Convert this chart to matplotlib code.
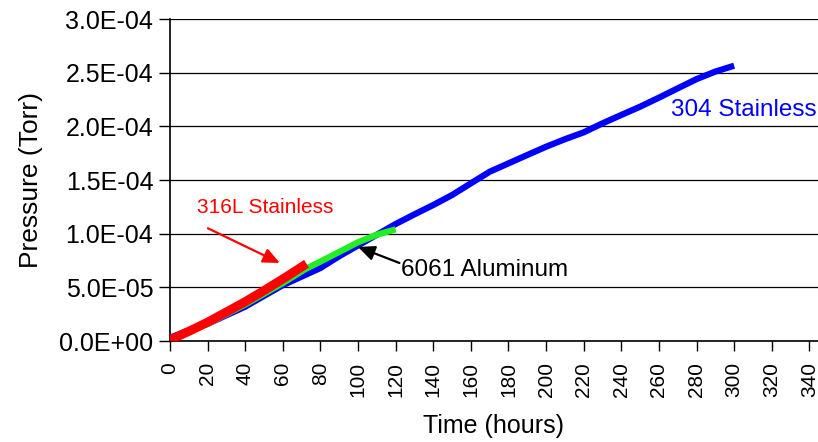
import matplotlib
matplotlib.use("Agg")
import matplotlib.pyplot as plt
from matplotlib.ticker import FuncFormatter

plt.rcParams['font.family'] = ['Liberation Sans', 'DejaVu Sans']

# Data
hours_304 = [0, 10, 20, 30, 40, 50, 60, 70, 80, 90, 100, 110, 120, 130, 140, 150, 160,
             170, 180, 190, 200, 210, 220, 230, 240, 250, 260, 270, 280, 290, 300]
p_304 = [3.0e-6, 1.0e-5, 1.6e-5, 2.4e-5, 3.2e-5, 4.2e-5, 5.2e-5, 6.0e-5, 6.8e-5, 7.9e-5,
         8.9e-5, 9.9e-5, 1.09e-4, 1.18e-4, 1.267e-4, 1.36e-4, 1.469e-4, 1.577e-4, 1.655e-4,
         1.733e-4, 1.81e-4, 1.88e-4, 1.944e-4, 2.028e-4, 2.106e-4, 2.183e-4, 2.267e-4,
         2.354e-4, 2.44e-4, 2.51e-4, 2.565e-4]

hours_6061 = [0, 20, 40, 60, 72, 80, 90, 100, 110, 120]
p_6061 = [1.0e-6, 1.6e-5, 3.4e-5, 5.4e-5, 6.7e-5, 7.4e-5, 8.3e-5, 9.2e-5, 9.9e-5, 1.04e-4]

hours_316 = [0, 10, 20, 30, 40, 50, 60, 66, 72.6]
p_316 = [1.0e-6, 9.0e-6, 1.75e-5, 2.7e-5, 3.66e-5, 4.7e-5, 5.78e-5, 6.45e-5, 7.2e-5]

x_ticks = list(range(0, 341, 20))
y_ticks = [0, 5e-5, 1e-4, 1.5e-4, 2e-4, 2.5e-4, 3e-4]

fig = plt.figure(figsize=(8.18, 4.42), dpi=100)
ax = fig.add_axes([0.2078, 0.2285, 0.7922, 0.7285])

ax.plot(hours_304, p_304, color='#0000ff', lw=4.5, solid_capstyle='butt', zorder=3)
ax.plot(hours_6061, p_6061, color='#22ee22', lw=4.5, solid_capstyle='butt', zorder=4)
ax.plot(hours_316, p_316, color='#ff0000', lw=6.5, solid_capstyle='butt', zorder=5)

ax.set_xlim(0, 344.6)
ax.set_ylim(0, 3.0e-4)
ax.set_xticks(x_ticks)
ax.set_yticks(y_ticks)
ax.yaxis.set_major_formatter(FuncFormatter(lambda v, p: "%.1E" % v))
ax.xaxis.set_major_formatter(FuncFormatter(lambda v, p: "%d" % v))
ax.tick_params(axis='y', labelsize=18, length=8, width=1, direction='out', pad=4)
ax.tick_params(axis='x', labelsize=15, length=7, width=1, direction='out', labelrotation=90, pad=8)
ax.yaxis.grid(True, color='black', lw=0.9)
ax.set_axisbelow(True)
for s in ['top', 'right']:
    ax.spines[s].set_visible(False)
for s in ['left', 'bottom']:
    ax.spines[s].set_linewidth(1.2)

ax.set_xlabel('Time (hours)', fontsize=18, labelpad=12)
ax.set_ylabel('Pressure (Torr)', fontsize=19, labelpad=12)

arrow_kw = dict(arrowstyle='-|>,head_length=1.0,head_width=0.45', lw=1.6, shrinkA=0, shrinkB=0)

ax.text(14.4, 1.24e-4, '316L Stainless', color='#ff0000', fontsize=15, va='center', ha='left')
ax.annotate('', xy=(58.4, 7.27e-5), xytext=(20.2, 1.05e-4),
            arrowprops=dict(color='#ff0000', **arrow_kw), zorder=6)

ax.annotate('', xy=(100, 8.76e-5), xytext=(122, 7.27e-5),
            arrowprops=dict(color='black', **arrow_kw), zorder=6)
ax.text(123, 6.6e-5, '6061 Aluminum', fontsize=17.5, color='black', va='center', ha='left')
ax.text(266.6, 2.15e-4, '304 Stainless', fontsize=17.5, color='#0000ff', va='center', ha='left',
        clip_on=False)

fig.savefig('out.png', dpi=100)
